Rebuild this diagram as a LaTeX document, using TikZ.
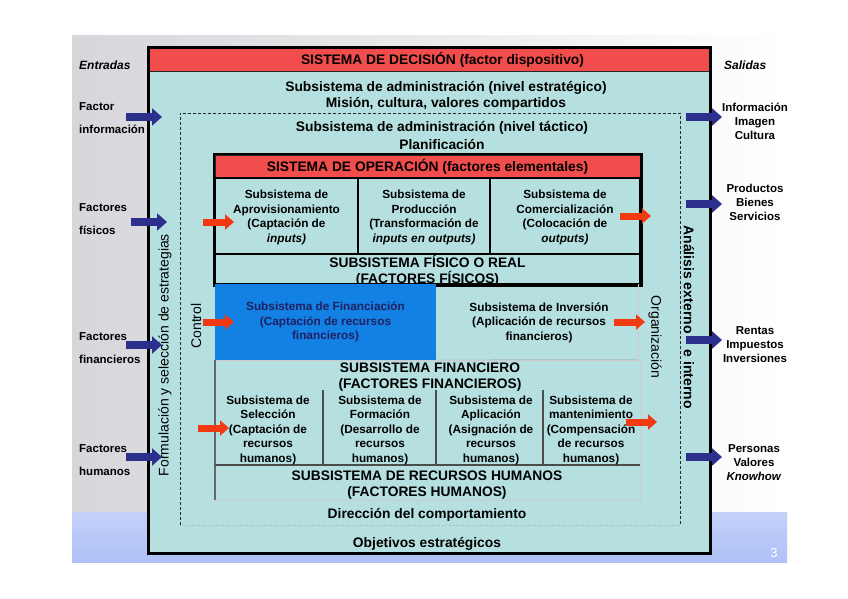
\documentclass[tikz,border=0pt]{standalone}
\usepackage{fontspec}
\setmainfont{Liberation Sans}
\usetikzlibrary{arrows.meta,positioning}
\definecolor{redhdr}{HTML}{F24D4D}
\definecolor{cyanfill}{HTML}{B6E0E0}
\definecolor{finblue}{HTML}{1380E4}
\definecolor{navy}{HTML}{2D2F8C}
\definecolor{orangered}{HTML}{F23A12}
\definecolor{bandblue}{HTML}{AFC1F7}
\definecolor{slidegray}{HTML}{D6D6DB}

\begin{document}
\begin{tikzpicture}[x=1pt,y=-1pt,
  every node/.style={align=center,inner sep=0pt,font=\fontsize{11.8}{14.5}\selectfont\bfseries},
  hdr/.style={fill=redhdr,draw=black!85,line width=1pt,font=\fontsize{13.8}{16}\selectfont\bfseries},
  opbox/.style={draw=black,line width=2.5pt,fill=cyanfill},
  big/.style={font=\fontsize{13.8}{16}\selectfont\bfseries},
  lbl/.style={align=left,anchor=west,font=\fontsize{11.5}{22.5}\selectfont\bfseries},
  outlbl/.style={font=\fontsize{11.5}{14}\selectfont\bfseries},
  vert/.style={font=\fontsize{14}{16}\selectfont},
  side/.style={anchor=west,font=\fontsize{12}{15}\selectfont\bfseries\itshape},
  inarr/.style={draw=navy,line width=8pt,-{Triangle[width=17pt,length=10pt]}},
  oparr/.style={draw=orangered,line width=7pt,-{Triangle[width=15pt,length=9pt]}},
  sep/.style={draw=black!70,line width=1.2pt}]
  \useasboundingbox (0,0) rectangle (848,599);
  % slide background
  \shade[left color=slidegray,right color=white] (72,36) rectangle (787,512);
  \shade[top color=bandblue!75,bottom color=bandblue] (72,512) rectangle (787,562);
  \node[text=white,font=\fontsize{13}{15}\selectfont] (pagenum) at (774,553) {3};

  % sistema de decision
  \node[fill=cyanfill,minimum width=561pt,minimum height=505pt] (decision) at (429.5,300.5) {};
  \node[hdr,minimum width=561pt,minimum height=24pt] (dechdr) at (429.5,60) {\hspace*{26pt}SISTEMA DE DECISIÓN (factor dispositivo)};
  \node[big] (admest) at (446,96) {Subsistema de administración (nivel estratégico)\\Misión, cultura, valores compartidos};
  \draw[black!85,line width=0.9pt,dash pattern=on 3pt off 2pt] (180,525) -- (180,113) -- (680,113) -- (680,525);
  \draw[black!30,dotted] (180,525) -- (680,525);
  \node[big] (admtac) at (442,136) {Subsistema de administración (nivel táctico)\\[2pt]Planificación};

  % sistema de operacion
  \node[opbox,minimum width=425pt,minimum height=129pt] (oper) at (427.5,219.5) {};
  \node[hdr,minimum width=425pt,minimum height=23pt] (ophdr) at (427.5,166.5) {SISTEMA DE OPERACIÓN (factores elementales)};
  \node[opbox,minimum width=143pt,minimum height=76pt,text depth=-4pt] (aprov) at (286.5,216) {Subsistema de\\Aprovisionamiento\\(Captación de\\\textit{inputs)}};
  \node[opbox,minimum width=132pt,minimum height=76pt,text depth=-4pt] (produc) at (424,216) {Subsistema de\\Producción\\(Transformación de\\\textit{inputs en outputs)}};
  \node[opbox,minimum width=150pt,minimum height=76pt,text depth=-4pt] (comerc) at (565,216) {Subsistema de\\Comercialización\\(Colocación de\\\textit{outputs)}};
  \node[big] (fisico) at (427.5,271) {SUBSISTEMA FÍSICO O REAL\\(FACTORES FÍSICOS)};
  \draw[black,line width=2.5pt] (oper.north west) rectangle (oper.south east);

  % subsistema financiero
  \node[fill=finblue,minimum width=221pt,minimum height=76pt,text=navy!70!black] (financ) at (325.5,322) {Subsistema de Financiación\\(Captación de recursos\\financieros)};
  \node (invers) at (539,322.5) {Subsistema de Inversión\\(Aplicación de recursos\\financieros)};
  \draw[black!40,line width=0.8pt] (financ.south east) -- (638,360);
  \draw[black!20,line width=0.8pt] (638,284) -- (638,360);
  \node[big] (finlbl) at (430,377) {SUBSISTEMA FINANCIERO\\(FACTORES FINANCIEROS)};

  % recursos humanos
  \draw[black!20,line width=0.8pt] (215,360) rectangle (640,500);
  \draw[black!60,line width=1.2pt] (215,360) -- (215,500);
  \draw[sep] (215,465) -- (640,465);
  \foreach \x in {323,436,543}
    \draw[sep] (\x,390) -- (\x,465);
  \node (selec) at (268,430) {Subsistema de\\Selección\\(Captación de\\recursos\\humanos)};
  \node (format) at (380,430) {Subsistema de\\Formación\\(Desarrollo de\\recursos\\humanos)};
  \node (aplic) at (491,430) {Subsistema de\\Aplicación\\(Asignación de\\recursos\\humanos)};
  \node (mant) at (591,430) {Subsistema de\\mantenimiento\\(Compensación\\de recursos\\humanos)};
  \node[big] (humlbl) at (427,485) {SUBSISTEMA DE RECURSOS HUMANOS\\(FACTORES HUMANOS)};
  \node[big] (direc) at (427,515) {Dirección del comportamiento};
  \node[big] (objet) at (427,544) {Objetivos estratégicos};
  \draw[black,line width=3pt] (decision.north west) rectangle (decision.south east);

  % textos verticales
  \node[vert,rotate=90] (formul) at (165,355) {Formulación y selección de estrategias};
  \node[vert,rotate=90] (control) at (196,326) {Control};
  \node[vert,rotate=-90] (organ) at (655,337) {Organización};
  \node[vert,font=\fontsize{14}{16}\selectfont\bfseries,rotate=-90] (analisis) at (689,317) {Análisis externo\hspace{12pt} e interno};

  % entradas
  \node[side] (entradas) at (79,65) {Entradas};
  \node[lbl] (lInfo) at (79,118) {Factor\\información};
  \node[lbl] (lFis) at (79,219) {Factores\\físicos};
  \node[lbl] (lFin) at (79,348) {Factores\\financieros};
  \node[lbl] (lHum) at (79,460) {Factores\\humanos};
  \foreach \n/\xa/\y in {info/126/117,fis/131/222,fin/126/345,hum/126/457}{
    \coordinate (in\n) at (\xa,\y);
    \draw[inarr] (in\n) -- ++(36,0);}

  % salidas
  \node[side] (salidas) at (724,65) {Salidas};
  \begin{scope}
    \clip (72,36) rectangle (787,562);
    \node[outlbl] (rInfo) at (755,121) {Información\\Imagen\\Cultura};
  \end{scope}
  \node[outlbl] (rProd) at (755,202.5) {Productos\\Bienes\\Servicios};
  \node[outlbl] (rRent) at (755,345) {Rentas\\Impuestos\\Inversiones};
  \node[outlbl] (rPers) at (754,462.5) {Personas\\Valores\\\textit{Knowhow}};
  \foreach \n/\y in {info/117,prod/204,rent/340,pers/457}{
    \coordinate (out\n) at (686,\y);
    \draw[inarr] (out\n) -- ++(36,0);}

  % flechas internas
  \foreach \n/\xa/\y in {aprov/203/222,financ/203/322,comerc/620/216,invers/614/322,selec/198/428,mant/626/422}{
    \coordinate (op\n) at (\xa,\y);
    \draw[oparr] (op\n) -- ++(31,0);}
\end{tikzpicture}
\end{document}
